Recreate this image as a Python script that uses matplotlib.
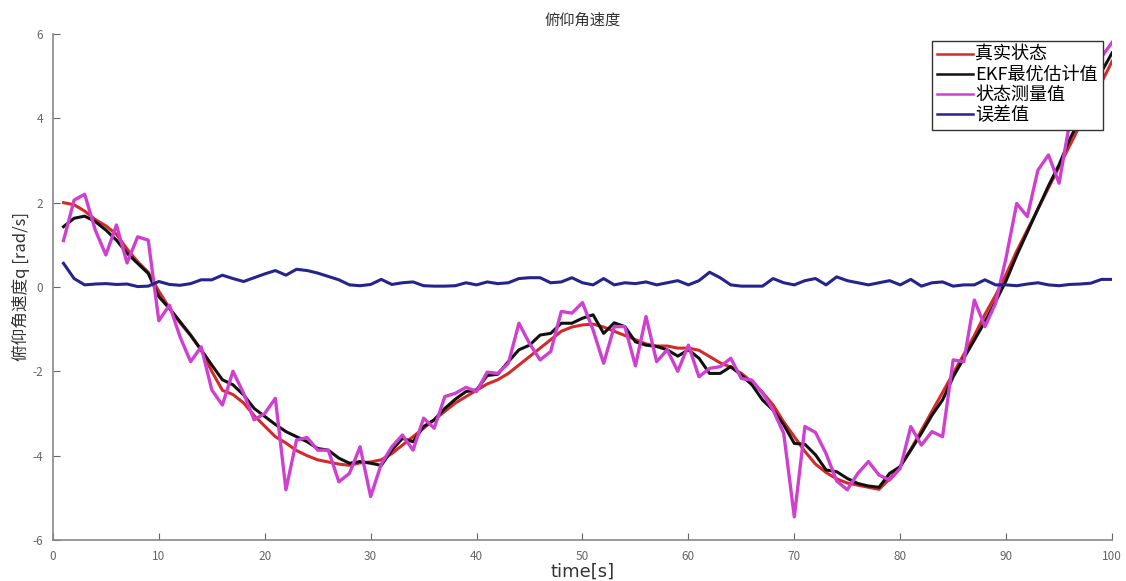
import numpy as np
import matplotlib.pyplot as plt

plt.rcParams['font.family'] = ['Noto Sans CJK SC', 'DejaVu Sans']
plt.rcParams['axes.unicode_minus'] = False

t = np.arange(1, 101)

# true pitch rate
q_true = [2.0, 1.95, 1.8, 1.6, 1.45, 1.25, 0.9, 0.6, 0.35, -0.1,
          -0.5, -0.85, -1.15, -1.5, -2.0, -2.45, -2.55, -2.75, -3.05, -3.3,
          -3.55, -3.7, -3.88, -4.0, -4.1, -4.15, -4.2, -4.23, -4.17, -4.15,
          -4.1, -3.95, -3.75, -3.55, -3.35, -3.15, -2.95, -2.75, -2.6, -2.45,
          -2.3, -2.2, -2.05, -1.85, -1.65, -1.45, -1.25, -1.05, -0.95, -0.9,
          -0.88, -0.95, -1.05, -1.15, -1.25, -1.35, -1.4, -1.4, -1.45, -1.45,
          -1.5, -1.65, -1.8, -1.9, -2.05, -2.25, -2.5, -2.8, -3.2, -3.55,
          -3.9, -4.2, -4.4, -4.55, -4.65, -4.7, -4.75, -4.8, -4.55, -4.25,
          -3.85, -3.4, -2.95, -2.5, -2.05, -1.6, -1.15, -0.65, -0.2, 0.3,
          0.85, 1.35, 1.85, 2.35, 2.85, 3.35, 3.85, 4.35, 4.85, 5.35]

# EKF estimate
q_ekf = [1.43, 1.63, 1.68, 1.55, 1.35, 1.11, 0.8, 0.56, 0.32, -0.23,
         -0.51, -0.82, -1.14, -1.49, -1.85, -2.2, -2.32, -2.56, -2.88, -3.07,
         -3.26, -3.43, -3.55, -3.67, -3.83, -3.87, -4.06, -4.18, -4.14, -4.18,
         -4.23, -3.87, -3.59, -3.67, -3.31, -3.15, -2.88, -2.66, -2.48, -2.44,
         -2.1, -2.07, -1.77, -1.49, -1.38, -1.14, -1.1, -0.86, -0.86, -0.74,
         -0.66, -1.1, -0.85, -0.94, -1.3, -1.38, -1.41, -1.49, -1.64, -1.49,
         -1.69, -2.05, -2.05, -1.89, -2.09, -2.32, -2.68, -2.92, -3.27, -3.71,
         -3.73, -3.98, -4.34, -4.38, -4.54, -4.66, -4.72, -4.75, -4.42, -4.26,
         -3.87, -3.47, -3.04, -2.68, -2.13, -1.69, -1.26, -0.82, -0.35, 0.15,
         0.75, 1.3, 1.85, 2.4, 2.9, 3.5, 4.0, 4.6, 5.1, 5.55]

# measured pitch rate
q_meas = [1.1, 2.06, 2.2, 1.35, 0.76, 1.47, 0.57, 1.19, 1.11, -0.8,
          -0.43, -1.18, -1.77, -1.42, -2.44, -2.8, -2.0, -2.52, -3.15, -3.0,
          -2.64, -4.81, -3.63, -3.57, -3.87, -3.87, -4.62, -4.42, -3.79, -4.97,
          -4.2, -3.79, -3.51, -3.87, -3.11, -3.35, -2.6, -2.52, -2.38, -2.48,
          -2.02, -2.05, -1.81, -0.86, -1.34, -1.73, -1.53, -0.58, -0.62, -0.37,
          -1.02, -1.81, -0.94, -0.94, -1.87, -0.7, -1.77, -1.49, -2.0, -1.38,
          -2.13, -1.93, -1.89, -1.69, -2.17, -2.21, -2.52, -2.92, -3.47, -5.45,
          -3.31, -3.45, -3.95, -4.6, -4.81, -4.42, -4.14, -4.46, -4.58, -4.3,
          -3.31, -3.75, -3.43, -3.55, -1.73, -1.77, -0.31, -0.94, -0.39, 0.7,
          1.98, 1.67, 2.77, 3.13, 2.46, 3.9, 4.5, 5.0, 5.45, 5.8]

# estimation error
q_err = [0.56, 0.2, 0.05, 0.07, 0.08, 0.06, 0.07, 0.01, 0.02, 0.13,
         0.06, 0.04, 0.08, 0.17, 0.17, 0.28, 0.2, 0.13, 0.22, 0.31,
         0.39, 0.28, 0.42, 0.39, 0.33, 0.25, 0.17, 0.05, 0.03, 0.06,
         0.18, 0.06, 0.1, 0.12, 0.03, 0.02, 0.02, 0.03, 0.1, 0.05,
         0.12, 0.08, 0.1, 0.2, 0.22, 0.22, 0.1, 0.12, 0.22, 0.1,
         0.05, 0.2, 0.05, 0.1, 0.08, 0.12, 0.05, 0.1, 0.15, 0.05,
         0.15, 0.35, 0.22, 0.05, 0.02, 0.02, 0.02, 0.2, 0.1, 0.05,
         0.15, 0.2, 0.05, 0.24, 0.15, 0.1, 0.05, 0.1, 0.15, 0.05,
         0.18, 0.02, 0.1, 0.12, 0.02, 0.05, 0.05, 0.17, 0.05, 0.05,
         0.03, 0.07, 0.1, 0.05, 0.03, 0.06, 0.07, 0.09, 0.18, 0.18]

labels = ['真实状态', 'EKF最优估计值', '状态测量值', '误差值']
xticks = np.arange(0, 101, 10)
yticks = np.arange(-6, 7, 2)

fig = plt.figure(figsize=(11.26, 5.81), dpi=100)
ax = fig.add_axes([0.047, 0.0706, 0.9406, 0.8709])

ax.plot(t, q_true, color='#d42a2a', linewidth=2.2, label=labels[0])
ax.plot(t, q_ekf, color='#111111', linewidth=2.2, label=labels[1])
ax.plot(t, q_meas, color='#d040d0', linewidth=2.4, label=labels[2])
ax.plot(t, q_err, color='#24248c', linewidth=2.2, label=labels[3])

ax.set_xlim(0, 100)
ax.set_ylim(-6, 6)
ax.set_xticks(xticks)
ax.set_yticks(yticks)
ax.tick_params(direction='in', colors='#666666', labelsize=8.5, length=5)
ax.tick_params(axis='x', pad=7)
ax.tick_params(axis='y', pad=7)
for s in ['top', 'right']:
    ax.spines[s].set_visible(False)
for s in ['left', 'bottom']:
    ax.spines[s].set_color('#888888')
    ax.spines[s].set_linewidth(1.2)

ax.set_title('俯仰角速度', fontsize=11, color='#333333', pad=7)
ax.set_xlabel('time[s]', fontsize=13, color='#333333', labelpad=0,
              family=['DejaVu Sans'])
ax.set_ylabel('俯仰角速度q [rad/s]', fontsize=12, color='#333333', labelpad=2)

leg = ax.legend(loc='upper right', bbox_to_anchor=(0.9915, 0.987),
                fontsize=13, frameon=True, fancybox=False, framealpha=1,
                edgecolor='#333333', handlelength=2.0, handletextpad=0.1,
                borderpad=0.3, labelspacing=0.12, borderaxespad=0.0)
leg.get_frame().set_linewidth(1.0)
for line in leg.get_lines():
    line.set_linewidth(1.8)

plt.savefig('out.png', dpi=100)
